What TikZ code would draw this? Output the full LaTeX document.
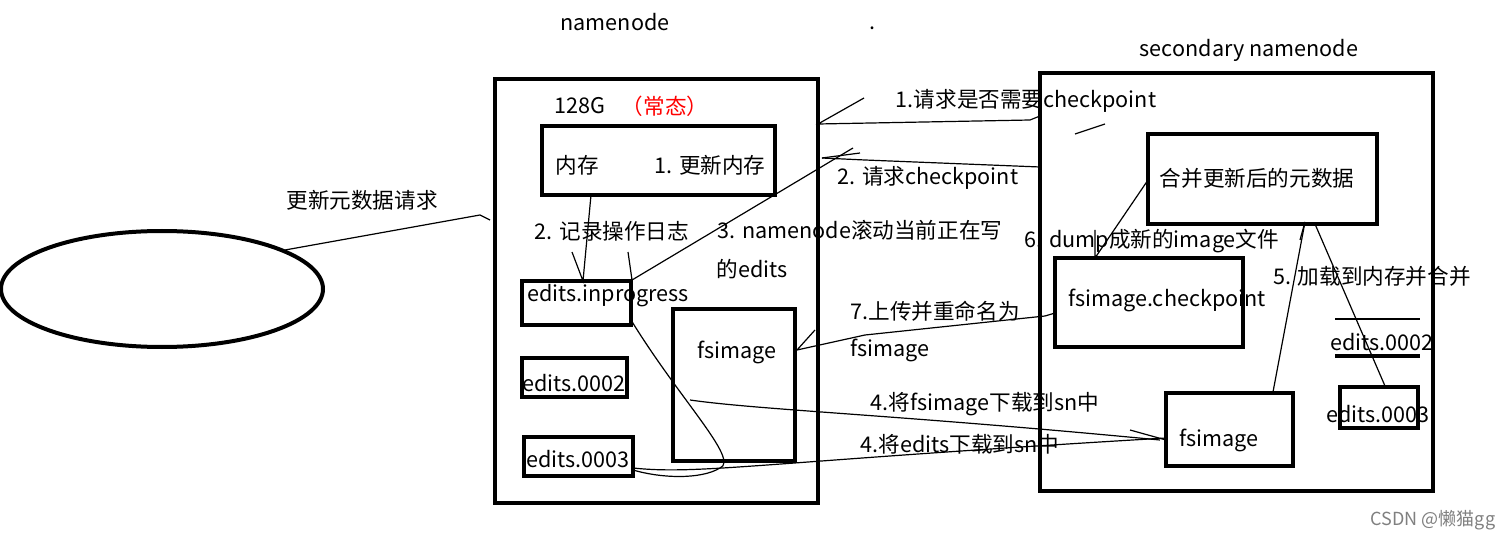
\documentclass[tikz,border=0pt]{standalone}
\usepackage{fontspec}
\setmainfont{Noto Sans CJK SC}
\begin{document}
\begin{tikzpicture}[x=0.5pt,y=-0.5pt,
  box/.style={draw,line width=2pt},
  ln/.style={line width=0.6pt},
  txt/.style={font=\fontsize{10.8}{12}\selectfont,inner sep=0pt}]
\useasboundingbox (0,0) rectangle (1512,540);
\fill[white] (0,0) rectangle (1512,540);
% titles
\node[txt] (t1) at (615,22) {namenode};
\node[txt] (dot) at (872,28) {.};
\node[txt] (t2) at (1249,50) {secondary namenode};
% namenode
\draw[box] (495,79) rectangle (818,503);
\node[txt] (g) at (580,106) {128G};
\node[txt,text=red] (cs) at (665,106) {（常态）};
\draw[box] (542,126) rectangle (775,195);
\node[txt] (nc) at (577,165) {内存};
\node[txt] (u1) at (710,165) {1. 更新内存};
\node[txt] (l2) at (612,231) {2. 记录操作日志};
\node[txt] (l3) at (860,230) {3. namenode滚动当前正在写};
\node[txt] (l3b) at (752,269) {的edits};
\draw[box] (522,281) rectangle (631,325);
\node[txt] (ei) at (608,296) {edits.inprogress};
\draw[box] (673,309) rectangle (795,461);
\node[txt] (fs1) at (737,352) {fsimage};
\draw[box] (522,358) rectangle (627,397);
\node[txt] (e2) at (574,383) {edits.0002};
\draw[box] (524,437) rectangle (633,476);
\node[txt] (e3) at (578,459) {edits.0003};
% ellipse
\draw[line width=2pt] (162,289) ellipse (161 and 58);
\node[txt] (req) at (362,200) {更新元数据请求};
\coordinate (ea) at (285,250);
\coordinate (eb) at (480,215);
\draw[ln] (ea) -- (eb) -- (490,220);
% secondary
\draw[box] (1040,73) rectangle (1433,491);
\draw[box] (1148,134) rectangle (1377,224);
\node[txt] (mg) at (1257,178) {合并更新后的元数据};
\node[txt] (d6) at (1152,241) {6. dump成新的image文件};
\draw[box] (1055,258) rectangle (1243,347);
\node[txt] (fc) at (1167,300) {fsimage.checkpoint};
\node[txt] (l5) at (1372,276) {5. 加载到内存并合并};
\draw[box] (1166,393) rectangle (1293,466);
\node[txt] (fs2) at (1219,440) {fsimage};
\draw[ln] (1335,319) -- (1420,319);
\node[txt] (se2) at (1382,342) {edits.0002};
\draw[line width=2pt] (1335,356) -- (1420,356);
\draw[box] (1340,387) rectangle (1418,428);
\node[txt] (se3) at (1378,414) {edits.0003};
% labels between
\node[txt] (r1) at (1026,101) {1.请求是否需要checkpoint};
\node[txt] (r2) at (928,178) {2. 请求checkpoint};
\node[txt] (r7) at (935,311) {7.上传并重命名为};
\node[txt] (r7b) at (890,350) {fsimage};
\node[txt] (r4a) at (985,404) {4.将fsimage下载到sn中};
\node[txt] (r4b) at (960,444) {4.将edits下载到sn中};
% connectors
\draw[ln] (1040,116) -- (1030,120) -- (818,124) -- (864,98);
\draw[ln] (1075,134) -- (1105,124);
\draw[ln] (1040,167) -- (865,160) -- (822,158);
\draw[ln] (822,158) -- (860,153);
\draw[ln] (591,195) -- (583,281) -- (572,252);
\draw[ln] (853,148) -- (632,280) -- (628,252);
\draw[ln] (1055,313) -- (1045,316) -- (865,335) -- (797,350) -- (815,330);
\draw[ln] (690,400) .. controls (760,410) and (900,415) .. (1160,440);
\draw[ln] (1166,440) -- (1130,430);
\draw[ln] (633,468) .. controls (700,475) and (760,462) .. (1166,438);
\draw[ln] (631,320) .. controls (680,400) and (740,460) .. (720,468) .. controls (700,480) and (660,478) .. (633,470);
\draw[ln] (1148,180) -- (1095,258) -- (1095,230);
\draw[ln] (1305,222) -- (1273,392);
\draw[ln] (1315,224) -- (1385,386);
\draw[ln] (1300,240) -- (1305,222);
\node[font=\fontsize{9}{10}\selectfont,text=gray,inner sep=0pt] (wm) at (1433,520) {CSDN @懒猫gg};
\end{tikzpicture}
\end{document}
